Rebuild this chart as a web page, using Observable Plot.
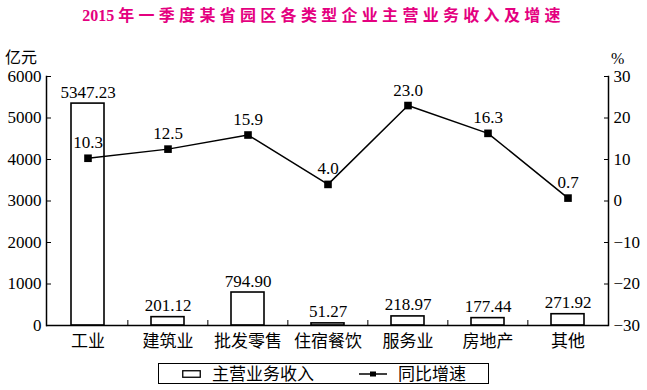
<!DOCTYPE html>
<html><head><meta charset="utf-8">
<script src="https://cdn.jsdelivr.net/npm/d3@7"></script>
<script src="https://cdn.jsdelivr.net/npm/@observablehq/plot@0.6"></script>
<style>
body{margin:0;background:#fff;width:647px;height:390px;position:relative;overflow:hidden;font-family:"Liberation Serif","Noto Sans CJK SC",serif;color:#000;}
#title{position:absolute;left:0;top:3px;width:647px;text-align:center;font-size:16px;font-weight:bold;color:#E4007F;white-space:nowrap;line-height:22px;z-index:2;}
#title .cn{letter-spacing:4.3px;font-family:"Noto Sans CJK SC",sans-serif;}
#chart{position:absolute;left:0;top:30px;z-index:1;}
.unit{position:absolute;font-size:16px;line-height:18px;z-index:3;}
#legend{position:absolute;left:158px;top:363px;width:329px;height:19px;border:1.5px solid #000;font-family:"Noto Sans CJK SC",sans-serif;font-size:17px;z-index:3;background:#fff;}
#legend span{position:absolute;top:-2px;line-height:21px;white-space:nowrap;}
#legend svg{position:absolute;}
</style></head>
<body>
<div id="title">2015 <span class="cn">年一季度某省园区各类型企业主营业务收入及增速</span></div>
<div class="unit" style="left:5px;top:47px;font-family:'Noto Sans CJK SC';">亿元</div>
<div class="unit" style="left:611px;top:50px;">%</div>
<div id="chart"></div>
<div id="legend">
  <svg style="left:23px;top:6px" width="20" height="9"><rect x="0.75" y="0.75" width="17.5" height="6.5" fill="#fff" stroke="#000" stroke-width="1.3"/></svg>
  <span style="left:53px">主营业务收入</span>
  <svg style="left:200px;top:4px" width="30" height="12"><line x1="0" y1="6" x2="28" y2="6" stroke="#000" stroke-width="1.5"/><rect x="11" y="3.5" width="6" height="5" fill="#000"/></svg>
  <span style="left:239px">同比增速</span>
</div>
<script>
const categories = ["工业","建筑业","批发零售","住宿餐饮","服务业","房地产","其他"];
const revenue = [5347.23, 201.12, 794.90, 51.27, 218.97, 177.44, 271.92];
const growth = [10.3, 12.5, 15.9, 4.0, 23.0, 16.3, 0.7];
const revenueTicks = [0, 1000, 2000, 3000, 4000, 5000, 6000];
const growthTicks = [-30, -20, -10, 0, 10, 20, 30];

const W = 647, H = 330, mL = 46, mR = 39, mT = 46, mB = 35;
const rMax = 6000, gMin = -30, gMax = 30;
const toY = g => (g - gMin) / (gMax - gMin) * rMax;
const fromY = v => v / rMax * (gMax - gMin) + gMin;
const data = categories.map((c, i) => ({c, r: revenue[i], g: growth[i], gy: toY(growth[i])}));
const step = (W - mL - mR) / categories.length;
const plotH = H - mT - mB;

const chart = Plot.plot({
  width: W, height: H, marginLeft: mL, marginRight: mR, marginTop: mT, marginBottom: mB,
  style: {fontFamily: '"Liberation Serif","Noto Sans CJK SC",serif', fontSize: "17px", color: "#000", background: "transparent", overflow: "visible"},
  x: {domain: categories, paddingInner: 0.59, paddingOuter: 0.295},
  y: {domain: [0, rMax]},
  marks: [
    Plot.barY(data, {x: "c", y: "r", fill: "#fff", stroke: "#000", strokeWidth: 1.6}),
    Plot.text(data, {x: "c", y: "r", text: d => d3.format(".2f")(d.r), lineAnchor: "bottom", dy: -6, fontSize: 17}),
    Plot.line(data, {x: "c", y: "gy", stroke: "#000", strokeWidth: 1.5}),
    Plot.dot(data, {x: "c", y: "gy", symbol: "square", fill: "#000", stroke: null, r: 4.3}),
    Plot.text(data, {x: "c", y: "gy", text: d => d3.format(".1f")(d.g), lineAnchor: "bottom", dy: -10, fontSize: 17}),
    Plot.ruleY([0], {stroke: "#000", strokeWidth: 1.5}),
    Plot.frame({anchor: "left", stroke: "#000", strokeWidth: 1.5}),
    Plot.frame({anchor: "right", stroke: "#000", strokeWidth: 1.5}),
    Plot.ruleX(categories.slice(1), {x: d => d, dx: -step / 2, insetTop: plotH - 5, stroke: "#000"}),
    Plot.axisY({anchor: "left", ticks: revenueTicks, tickSize: -5, tickPadding: 10, tickFormat: d => String(d), fontSize: 17, label: null}),
    Plot.axisY({anchor: "right", ticks: growthTicks.map(toY), tickSize: -5, tickPadding: 10, tickFormat: v => d3.format("d")(Math.round(fromY(v))), fontSize: 17, label: null}),
    Plot.axisX({tickSize: 0, tickPadding: 9, fontSize: 17, label: null, fontFamily: '"Noto Sans CJK SC",sans-serif'})
  ]
});
document.getElementById("chart").appendChild(chart);
</script>
</body></html>
